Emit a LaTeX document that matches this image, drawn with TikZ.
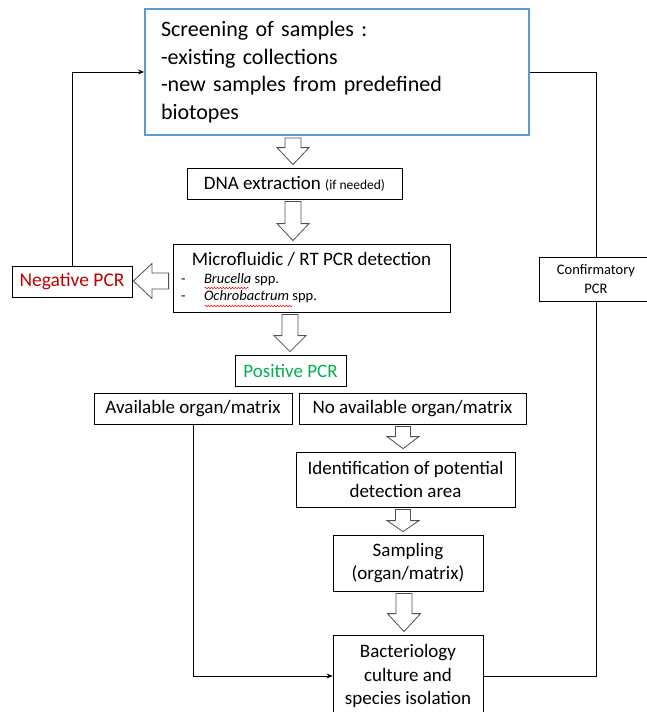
\documentclass[tikz,border=0pt]{standalone}
\usepackage{fontspec}
\setmainfont{Carlito}
\usetikzlibrary{calc,arrows.meta,decorations.pathmorphing}
\definecolor{scrblue}{HTML}{5B9BD5}
\definecolor{negred}{HTML}{C00000}
\definecolor{posgreen}{HTML}{00B050}
\definecolor{arrowgray}{HTML}{505050}
\newcommand\fs[2]{\fontsize{#1}{#2}\selectfont}
% block arrow down: #1 from node, #2 to node, #3 x, #4 shaft half width, #5 head half width, #6 head length
\newcommand\bdown[6]{%
  \draw[barrow] let \p1=(#1.south), \p2=(#2.north) in
    ({#3pt-#4pt},{\y1-2pt}) -- ({#3pt+#4pt},{\y1-2pt}) -- ({#3pt+#4pt},{\y2+3pt+#6pt}) --
    ({#3pt+#5pt},{\y2+3pt+#6pt}) -- (#3pt,{\y2+3pt}) -- ({#3pt-#5pt},{\y2+3pt+#6pt}) --
    ({#3pt-#4pt},{\y2+3pt+#6pt}) -- cycle;}
\begin{document}
\begin{tikzpicture}[x=1pt,y=-1pt,
  box/.style={draw=black,line width=0.8pt,fill=white,inner sep=0pt,align=center,font=\fs{19}{23.5}},
  barrow/.style={draw=arrowgray,line width=0.8pt,fill=white},
  conn/.style={draw=black,line width=0.7pt},
  wave/.style={draw=red,line width=0.5pt,decorate,decoration={snake,amplitude=0.7pt,segment length=3pt}},
  tip/.style={-{Stealth[length=6pt,width=5pt]}}]
\useasboundingbox (0,0) rectangle (646,712);
\fill[white] (0,0) rectangle (646,712);

\node[box,draw=scrblue,line width=2pt,minimum width=384,minimum height=126,text width=352,align=left,font=\fs{22}{27.7}] (scr) at (337,72)
  {Screening of samples :\\-existing collections\\-new samples from predefined\\biotopes};
\node[box,minimum width=215,minimum height=31] (dna) at (294.5,183.5)
  {DNA extraction {\fs{13.5}{14}(if needed)}};
\node[box,minimum width=277,minimum height=68] (mic) at (311.5,278)
  {\begin{minipage}{261pt}\centering{\fs{19}{21}Microfluidic / RT PCR detection}\par
   \raggedright\fs{14.5}{17.5}\makebox[23pt][l]{-}\textit{Brucella} spp.\par
   \makebox[23pt][l]{-}\textit{Ochrobactrum} spp.\end{minipage}};
\node[box,minimum width=120,minimum height=31,text=negred,font=\fs{19.5}{22}] (neg) at (72,281.5) {Negative PCR};
\node[box,minimum width=114,minimum height=44,font=\fs{14.5}{18.5}] (conf) at (596,279) {Confirmatory\\PCR};
\node[box,minimum width=111,minimum height=31,text=posgreen] (pos) at (290.5,370.5) {Positive PCR};
\node[box,minimum width=198,minimum height=31] (avail) at (193,408.5) {Available organ/matrix};
\node[box,minimum width=227,minimum height=31] (noav) at (412.5,408.5) {No available organ/matrix};
\node[box,minimum width=219,minimum height=55] (ident) at (405.5,479.5) {Identification of potential\\detection area};
\node[box,minimum width=150,minimum height=56] (samp) at (408,563) {Sampling\\(organ/matrix)};
\node[box,minimum width=150,minimum height=82] (bact) at (408,676) {Bacteriology\\culture and\\species isolation};

% spell-check wavy underlines
\draw[wave] ($(mic.west)+(32,10)$) -- ++(44,0);
\draw[wave] ($(mic.west)+(32,28)$) -- ++(88,0);

% block arrows
\bdown{scr}{dna}{293}{8}{16}{17}
\bdown{dna}{mic}{293}{8}{16}{17}
\bdown{mic}{pos}{290}{8}{16}{16}
\bdown{noav}{ident}{403}{7.5}{16}{12}
\bdown{ident}{samp}{403}{7.5}{16}{11}
\bdown{samp}{bact}{404}{8}{16.5}{18}
\draw[barrow] let \p1=(mic.west), \p2=(neg.east) in
  ({\x1-4pt},-273pt) -- ({\x1-4pt},-289pt) -- (152pt,-289pt) -- (152pt,-298.5pt) -- ({\x2+1pt},-281pt) --
  (152pt,-263.5pt) -- (152pt,-273pt) -- cycle;

% thin connectors
\draw[conn,tip] (neg.north) |- (scr.west);
\draw[conn] (scr.east) -| (conf.north);
\draw[conn] (bact.east) -| (conf.south);
\draw[conn,tip] (avail.south) |- (bact.west);
\end{tikzpicture}
\end{document}
